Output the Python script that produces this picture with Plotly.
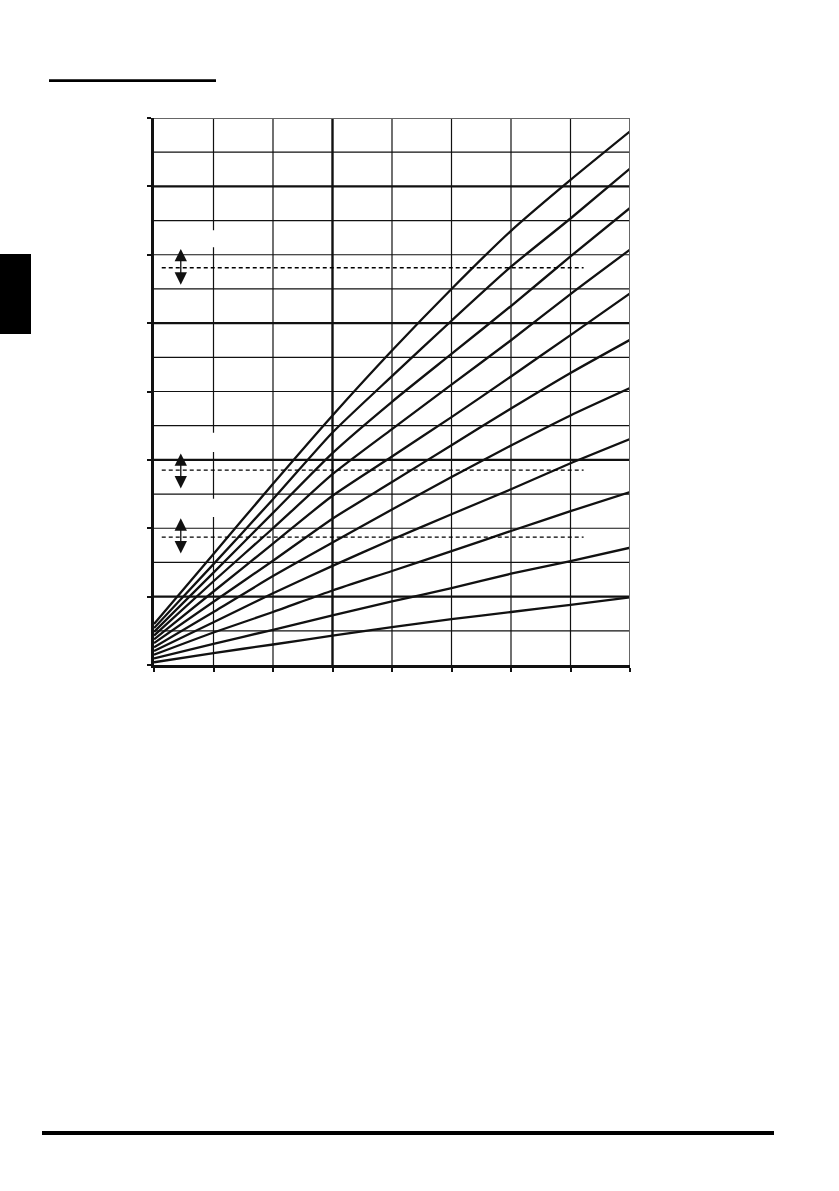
import plotly.graph_objects as go

# x positions where the curves were read (grid columns)
x_vals = [0, 1, 2, 3, 4, 5, 6, 7, 8]

# eleven curves, top to bottom, values read at each grid column
curve_1 = [1.20, 3.25, 5.30, 7.30, 9.20, 11.00, 12.70, 14.19, 15.61]
curve_2 = [1.08, 2.95, 4.85, 6.80, 8.45, 10.07, 11.65, 13.06, 14.52]
curve_3 = [0.97, 2.70, 4.45, 6.20, 7.70, 9.10, 10.50, 11.95, 13.37]
curve_4 = [0.86, 2.45, 4.00, 5.58, 6.90, 8.20, 9.50, 10.85, 12.15]
curve_5 = [0.75, 2.15, 3.55, 4.95, 6.10, 7.25, 8.44, 9.65, 10.87]
curve_6 = [0.64, 1.85, 3.05, 4.28, 5.35, 6.43, 7.50, 8.54, 9.51]
curve_7 = [0.52, 1.55, 2.60, 3.58, 4.55, 5.50, 6.42, 7.30, 8.10]
curve_8 = [0.41, 1.25, 2.10, 2.90, 3.67, 4.41, 5.14, 5.90, 6.61]
curve_9 = [0.30, 0.95, 1.55, 2.18, 2.75, 3.33, 3.92, 4.50, 5.06]
curve_10 = [0.19, 0.62, 1.03, 1.45, 1.86, 2.25, 2.67, 3.04, 3.43]
curve_11 = [0.08, 0.35, 0.60, 0.86, 1.11, 1.34, 1.55, 1.76, 1.98]
curves = [curve_1, curve_2, curve_3, curve_4, curve_5, curve_6,
          curve_7, curve_8, curve_9, curve_10, curve_11]

# axis ranges and grid
x_range = [0, 8]
y_range = [0, 16]
x_grid = [1, 2, 3, 4, 5, 6, 7]
x_grid_major = [3]
y_grid = list(range(1, 16))
y_grid_major = [2, 6, 10, 14]
x_ticks = list(range(0, 9))
y_ticks = list(range(0, 17, 2))

# dashed limit levels with their double arrows
dash_levels = [11.62, 5.70, 3.74]
dash_x = [0.13, 7.22]
arrow_x = 0.45
arrow_tops = [12.17, 6.19, 4.29]
arrow_bottoms = [11.08, 5.12, 3.22]

# white label boxes (text removed in the source page)
label_box_x = [0.62, 1.30]
label_box_tops = [12.72, 6.79, 4.86]
label_box_bottoms = [12.22, 6.23, 4.33]

W, H = 839, 1191
INK = "#111111"


def px_x(p):
    return p / W


def px_y(p):
    return 1 - p / H


fig = go.Figure()

# curves
for ys in curves:
    fig.add_trace(go.Scatter(
        x=x_vals, y=ys, mode="lines",
        line=dict(color=INK, width=2.3, shape="spline", smoothing=0.6),
        hoverinfo="skip", showlegend=False
    ))

# dashed limit lines
for lvl in dash_levels:
    fig.add_trace(go.Scatter(
        x=dash_x, y=[lvl, lvl], mode="lines",
        line=dict(color="#000000", width=1.3, dash="4px,3px"),
        hoverinfo="skip", showlegend=False
    ))

# grid lines (thin and thick), drawn under the traces
for gx in x_grid:
    fig.add_shape(type="line", xref="x", yref="y", x0=gx, x1=gx,
                  y0=y_range[0], y1=y_range[1], layer="below",
                  line=dict(color=INK, width=2.4 if gx in x_grid_major else 1.2))
for gy in y_grid:
    fig.add_shape(type="line", xref="x", yref="y", x0=x_range[0], x1=x_range[1],
                  y0=gy, y1=gy, layer="below",
                  line=dict(color=INK, width=2.4 if gy in y_grid_major else 1.2))

# grey top / right frame
fig.add_shape(type="line", xref="x", yref="y", x0=x_range[0], x1=x_range[1],
              y0=y_range[1], y1=y_range[1], line=dict(color="#666666", width=2))
fig.add_shape(type="line", xref="x", yref="y", x0=x_range[1], x1=x_range[1],
              y0=y_range[0], y1=y_range[1], line=dict(color="#666666", width=2))

# white boxes where labels used to sit
for top, bot in zip(label_box_tops, label_box_bottoms):
    fig.add_shape(type="rect", xref="x", yref="y",
                  x0=label_box_x[0], x1=label_box_x[1], y0=bot, y1=top,
                  fillcolor="white", line=dict(width=0), layer="above")

# double-headed arrows
for top, bot in zip(arrow_tops, arrow_bottoms):
    fig.add_annotation(
        x=arrow_x, y=top, ax=arrow_x, ay=bot,
        xref="x", yref="y", axref="x", ayref="y",
        text="", showarrow=True, arrowside="end+start",
        arrowhead=2, arrowsize=1.9, arrowwidth=1.3,
        arrowcolor=INK, standoff=0, startstandoff=0
    )

# page decorations: heading underline, side tab, footer rule
fig.add_shape(type="line", xref="paper", yref="paper",
              x0=px_x(49), x1=px_x(216), y0=px_y(80.7), y1=px_y(80.7),
              line=dict(color="black", width=2.7))
fig.add_shape(type="rect", xref="paper", yref="paper",
              x0=px_x(0), x1=px_x(31), y0=px_y(334), y1=px_y(254),
              fillcolor="black", line=dict(width=0))
fig.add_shape(type="line", xref="paper", yref="paper",
              x0=px_x(42), x1=px_x(774), y0=px_y(1133), y1=px_y(1133),
              line=dict(color="black", width=4))

fig.update_layout(
    width=W, height=H,
    margin=dict(l=0, r=0, t=0, b=0),
    paper_bgcolor="white", plot_bgcolor="white",
    showlegend=False,
    xaxis=dict(
        domain=[px_x(154), px_x(630)], range=x_range,
        showgrid=False, zeroline=False,
        showline=True, linecolor=INK, linewidth=2.6,
        ticks="outside", tickvals=x_ticks, ticklen=4, tickwidth=2,
        tickcolor=INK, showticklabels=False, fixedrange=True
    ),
    yaxis=dict(
        domain=[px_y(665), px_y(118)], range=y_range,
        showgrid=False, zeroline=False,
        showline=True, linecolor=INK, linewidth=3.2,
        ticks="outside", tickvals=y_ticks, ticklen=4, tickwidth=2,
        tickcolor=INK, showticklabels=False, fixedrange=True
    ),
)

fig.write_html("out.html", config={"displayModeBar": False},
               post_script="document.body.style.margin='0';")
